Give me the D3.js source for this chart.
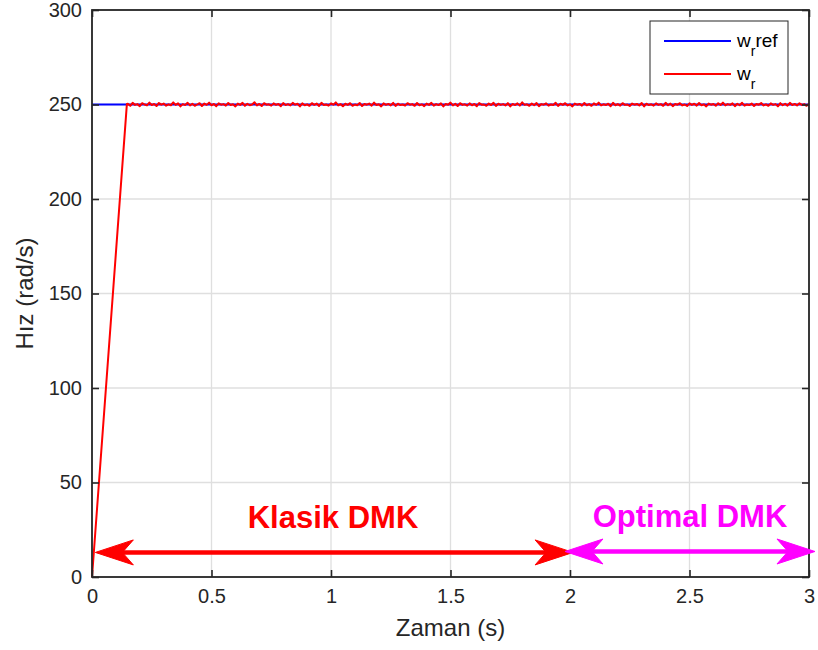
<!DOCTYPE html>
<html>
<head>
<meta charset="utf-8">
<script src="https://cdn.jsdelivr.net/npm/d3@7"></script>
<style>
  html, body { margin: 0; padding: 0; background: #fff; }
  svg { display: block; font-family: "Liberation Sans", Arial, Helvetica, sans-serif; }
</style>
</head>
<body>
<svg id="chart" width="818" height="650"></svg>
<script>
// Speed reference (rad/s)
const refTime = [0, 3];
const refSpeed = [250, 250];

// Measured rotor speed: start-up ramp, then the regulated speed sampled every 10 ms
const rampTime = [0, 0.146];
const rampSpeed = [0, 250.3];
const sampleStart = 0.15;
const sampleStep = 0.01;
const measuredSpeed = [
  250.4,249.3,250.9,249.8,250.2,249.1,250.7,250.0,249.5,251.0,249.7,250.3,249.2,250.8,249.9,250.5,249.4,250.1,249.6,251.1,
  249.8,250.6,249.0,250.2,249.7,250.9,249.5,250.4,249.3,250.0,250.7,249.2,250.5,249.8,251.0,249.6,250.3,249.1,250.6,249.9,
  250.2,249.4,250.8,249.7,250.1,249.0,250.5,249.8,250.9,249.3,250.4,249.6,250.0,251.2,249.5,250.3,249.2,250.7,249.9,250.1,
  249.4,250.6,249.8,250.3,249.1,250.8,249.7,250.2,249.5,250.9,249.9,250.4,249.0,250.6,249.6,250.1,249.3,250.7,249.8,250.5,
  249.2,250.9,249.7,250.0,249.4,250.6,249.9,251.1,249.5,250.2,249.1,250.4,249.8,250.7,249.3,250.0,249.6,250.8,249.2,250.3,
  249.9,250.5,249.4,251.0,249.7,250.1,249.0,250.6,249.8,250.3,249.5,250.9,249.2,250.4,249.7,250.0,249.4,250.7,249.9,250.2,
  249.3,250.8,249.6,250.1,249.1,250.5,249.8,250.9,249.4,250.2,249.7,250.6,249.0,250.3,249.9,251.0,249.5,250.4,249.2,250.7,
  249.8,250.1,249.4,250.6,249.6,250.3,249.1,250.8,249.9,250.0,249.3,250.5,249.7,250.9,249.2,250.4,249.8,250.2,249.5,250.7,
  249.0,250.3,249.7,250.6,249.4,251.1,249.8,250.1,249.3,250.5,249.6,250.8,249.1,250.2,249.9,250.6,249.4,250.0,249.7,250.9,
  249.2,250.4,249.8,250.7,249.5,250.1,249.0,250.5,249.9,250.3,249.4,250.8,249.6,250.2,249.3,250.6,249.8,251.0,249.5,250.1,
  249.7,250.4,249.1,250.9,249.6,250.2,249.4,250.7,249.8,250.0,249.2,250.5,249.9,250.3,249.5,250.8,249.0,250.4,249.7,250.1,
  249.4,250.6,249.8,250.2,249.3,250.9,249.6,250.5,249.1,250.3,249.9,250.7,249.5,250.0,249.2,250.6,249.8,250.4,249.4,250.8,
  249.6,250.1,249.0,250.5,249.9,250.3,249.3,250.7,249.7,251.0,249.5,250.2,249.8,250.6,249.1,250.4,249.6,250.9,249.4,250.0,
  249.7,250.5,249.2,250.3,249.9,250.8,249.5,250.1,249.3,250.6,249.8,250.2,249.0,250.7,249.6,250.4,249.4,250.9,249.7,250.3,
  249.5,250.6,249.8,250.2,249.3,250.4
];

// Axis ticks
const xTicks = [0, 0.5, 1, 1.5, 2, 2.5, 3];
const xTickLabels = ["0", "0.5", "1", "1.5", "2", "2.5", "3"];
const yTicks = [0, 50, 100, 150, 200, 250, 300];
const yTickLabels = ["0", "50", "100", "150", "200", "250", "300"];

// Control-method intervals marked with double arrows: [start, end, level]
const klasikSpan = [0.014, 2.013, 13.0];
const optimalSpan = [1.979, 3.025, 13.5];

const svg = d3.select("#chart");
const W = 818, H = 650;
const margin = { left: 92, top: 10, right: 9, bottom: 73 };
const pw = W - margin.left - margin.right;
const ph = H - margin.top - margin.bottom;

const x = d3.scaleLinear().domain([0, 3]).range([margin.left, margin.left + pw]);
const y = d3.scaleLinear().domain([0, 300]).range([margin.top + ph, margin.top]);

const axisColor = "#262626";
const gridColor = "#dfdfdf";

// Grid
const grid = svg.append("g");
grid.selectAll(".gx").data(xTicks).join("line")
  .attr("x1", d => x(d)).attr("x2", d => x(d))
  .attr("y1", y(0)).attr("y2", y(300))
  .attr("stroke", gridColor).attr("stroke-width", 1.3);
grid.selectAll(".gy").data(yTicks).join("line")
  .attr("y1", d => y(d)).attr("y2", d => y(d))
  .attr("x1", x(0)).attr("x2", x(3))
  .attr("stroke", gridColor).attr("stroke-width", 1.3);

// Series
const measured = rampTime.map((t, i) => [t, rampSpeed[i]])
  .concat(measuredSpeed.map((v, i) => [sampleStart + i * sampleStep, v]));
const reference = refTime.map((t, i) => [t, refSpeed[i]]);
const line = d3.line().x(d => x(d[0])).y(d => y(d[1]));

const plot = svg.append("g");
plot.append("path").datum(reference).attr("d", line)
  .attr("fill", "none").attr("stroke", "#0000ff").attr("stroke-width", 1.8);
plot.append("path").datum(measured).attr("d", line)
  .attr("fill", "none").attr("stroke", "#ff0000").attr("stroke-width", 2)
  .attr("stroke-linejoin", "round");

// Axes with inward ticks on all four sides
const tickLen = 7;
const axL = d3.axisLeft(y).tickValues(yTicks).tickFormat((d, i) => yTickLabels[i])
  .tickSizeInner(-tickLen).tickSizeOuter(0).tickPadding(10);
const axB = d3.axisBottom(x).tickValues(xTicks).tickFormat((d, i) => xTickLabels[i])
  .tickSizeInner(-tickLen).tickSizeOuter(0).tickPadding(12);
const axR = d3.axisRight(y).tickValues(yTicks).tickFormat("")
  .tickSizeInner(-tickLen).tickSizeOuter(0);
const axT = d3.axisTop(x).tickValues(xTicks).tickFormat("")
  .tickSizeInner(-tickLen).tickSizeOuter(0);

function styleAxis(g) {
  g.select(".domain").remove();
  g.selectAll("line").attr("stroke", axisColor).attr("stroke-width", 1.6);
  g.selectAll("text").attr("fill", axisColor).attr("font-size", 20)
    .attr("font-family", "'Liberation Sans', Arial, sans-serif");
}
svg.append("g").attr("transform", `translate(${margin.left},0)`).call(axL).call(styleAxis);
svg.append("g").attr("transform", `translate(0,${margin.top + ph})`).call(axB).call(styleAxis);
svg.append("g").attr("transform", `translate(${margin.left + pw},0)`).call(axR).call(styleAxis);
svg.append("g").attr("transform", `translate(0,${margin.top})`).call(axT).call(styleAxis);

// Frame
svg.append("rect")
  .attr("x", margin.left).attr("y", margin.top).attr("width", pw).attr("height", ph)
  .attr("fill", "none").attr("stroke", axisColor).attr("stroke-width", 1.8);

// Axis titles
svg.append("text").attr("x", x(1.5)).attr("y", 636)
  .attr("text-anchor", "middle").attr("font-size", 24).attr("fill", axisColor)
  .text("Zaman (s)");
svg.append("text").attr("transform", `translate(33,${y(150)}) rotate(-90)`)
  .attr("text-anchor", "middle").attr("font-size", 24).attr("fill", axisColor)
  .text("Hız (rad/s)");

// Double arrows with notched heads
function arrowHead(g, tipX, tipY, dir, color) {
  const L = 38, N = 27, Hw = 12.5;
  const pts = [
    [tipX, tipY],
    [tipX - dir * L, tipY - Hw],
    [tipX - dir * N, tipY],
    [tipX - dir * L, tipY + Hw]
  ];
  g.append("polygon").attr("points", pts.map(p => p.join(",")).join(" "))
    .attr("fill", color).attr("stroke", color).attr("stroke-width", 1).attr("stroke-linejoin", "miter");
}
function doubleArrow(span, color, width) {
  const g = svg.append("g");
  const x1 = x(span[0]), x2 = x(span[1]), yy = y(span[2]);
  g.append("line").attr("x1", x1 + 20).attr("x2", x2 - 20).attr("y1", yy).attr("y2", yy)
    .attr("stroke", color).attr("stroke-width", width);
  arrowHead(g, x1, yy, -1, color);
  arrowHead(g, x2, yy, 1, color);
}
doubleArrow(klasikSpan, "#ff0000", 4.5);
doubleArrow(optimalSpan, "#ff00ff", 4.5);

svg.append("text").attr("x", 333).attr("y", 528)
  .attr("text-anchor", "middle").attr("font-size", 31).attr("font-weight", "bold")
  .attr("fill", "#ff0000").text("Klasik DMK");
svg.append("text").attr("x", 690).attr("y", 527)
  .attr("text-anchor", "middle").attr("font-size", 31).attr("font-weight", "bold")
  .attr("fill", "#ff00ff").text("Optimal DMK");

// Legend
const lg = svg.append("g");
lg.append("rect").attr("x", 650).attr("y", 21).attr("width", 138).attr("height", 73)
  .attr("fill", "#fff").attr("stroke", axisColor).attr("stroke-width", 1);
const legendItems = [
  { color: "#0000ff", suffix: "ref", yy: 41 },
  { color: "#ff0000", suffix: "", yy: 74 }
];
legendItems.forEach(it => {
  lg.append("line").attr("x1", 664).attr("x2", 731).attr("y1", it.yy).attr("y2", it.yy)
    .attr("stroke", it.color).attr("stroke-width", 2);
  const t = lg.append("text").attr("x", 737).attr("y", it.yy + 6)
    .attr("font-size", 19).attr("fill", "#000");
  t.append("tspan").text("w");
  t.append("tspan").attr("dy", 9).attr("font-size", 14).text("r");
  if (it.suffix) t.append("tspan").attr("dy", -9).text(it.suffix);
});
</script>
</body>
</html>
